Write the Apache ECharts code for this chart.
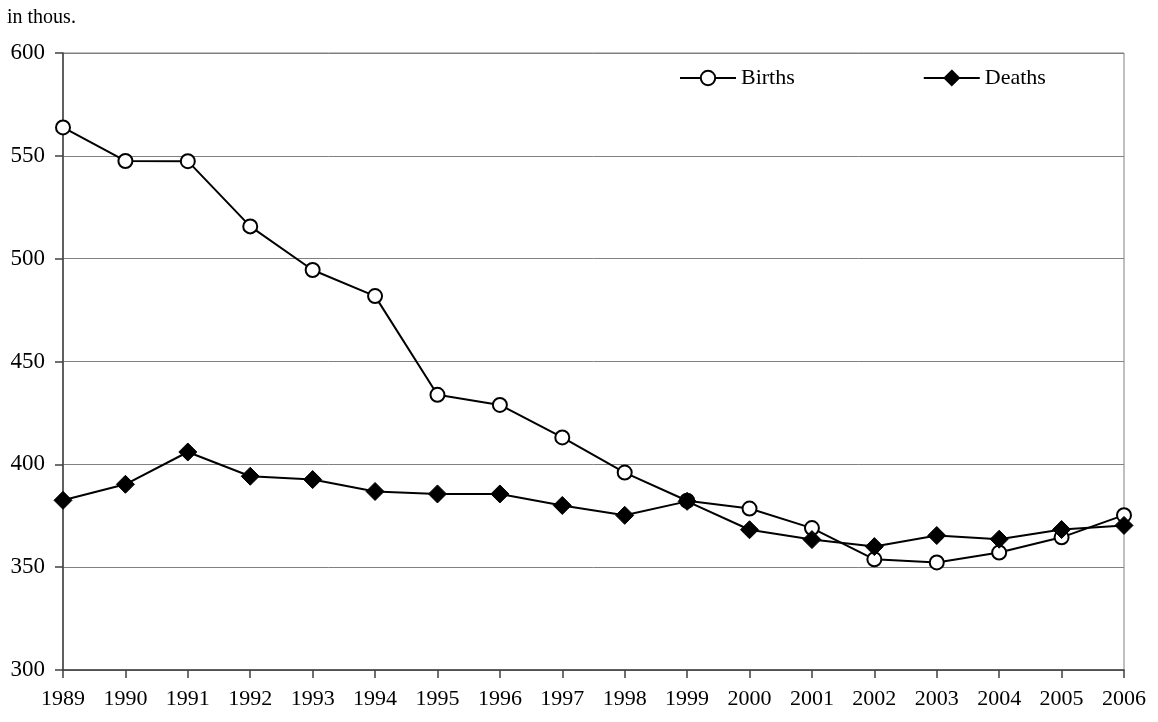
<!DOCTYPE html>
<html>
<head>
<meta charset="utf-8">
<script src="https://cdn.jsdelivr.net/npm/echarts@6/dist/echarts.min.js"></script>
<style>
html,body{margin:0;padding:0;background:#fff;}
#chart{width:1158px;height:722px;}
</style>
</head>
<body>
<div id="chart"></div>
<script>
const years = ['1989','1990','1991','1992','1993','1994','1995','1996','1997','1998','1999','2000','2001','2002','2003','2004','2005','2006'];
const births = [563.8, 547.5, 547.4, 515.7, 494.5, 481.8, 433.8, 428.9, 413.1, 396.0, 382.3, 378.5, 369.0, 353.8, 352.3, 357.1, 364.5, 375.3];
const deaths = [382.5, 390.3, 406.0, 394.2, 392.6, 386.8, 385.6, 385.6, 380.0, 375.2, 382.0, 368.2, 363.4, 360.0, 365.4, 363.6, 368.3, 370.3];
const yTicks = {min: 300, max: 600, interval: 50};
const unitLabel = 'in thous.';

const FONT = '"Liberation Serif", "Times New Roman", serif';
const chart = echarts.init(document.getElementById('chart'), null, {renderer: 'canvas'});
chart.setOption({
  animation: false,
  backgroundColor: '#ffffff',
  title: {
    text: unitLabel, left: 2, top: 3,
    textStyle: {fontFamily: FONT, fontSize: 20, fontWeight: 'normal', color: '#000'}
  },
  legend: {
    left: 674, top: 62,
    itemWidth: 56, itemHeight: 18, itemGap: 128,
    textStyle: {fontFamily: FONT, fontSize: 22, color: '#000', padding: [0, 0, 0, 0]},
    data: ['Births', 'Deaths']
  },
  grid: {
    left: 63, right: 34, top: 53, bottom: 52,
    show: true, borderColor: '#808080', borderWidth: 1, backgroundColor: 'transparent'
  },
  xAxis: {
    type: 'category', data: years, boundaryGap: false,
    axisLine: {show: true, lineStyle: {color: '#404040', width: 1.5}},
    axisTick: {show: true, alignWithLabel: true, length: 8, lineStyle: {color: '#404040', width: 1.5}},
    axisLabel: {fontFamily: FONT, fontSize: 22, color: '#000', margin: 18, interval: 0},
    splitLine: {show: false}
  },
  yAxis: {
    type: 'value', min: yTicks.min, max: yTicks.max, interval: yTicks.interval,
    axisLine: {show: true, lineStyle: {color: '#404040', width: 1.5}},
    axisTick: {show: true, length: 8, lineStyle: {color: '#404040', width: 1.5}},
    axisLabel: {fontFamily: FONT, fontSize: 23, color: '#000', margin: 18},
    splitLine: {show: true, lineStyle: {color: '#808080', width: 1}}
  },
  series: [
    {
      name: 'Births', type: 'line', data: births,
      symbol: 'circle', symbolSize: 14,
      lineStyle: {color: '#000', width: 2},
      itemStyle: {color: '#fff', borderColor: '#000', borderWidth: 2},
      z: 3
    },
    {
      name: 'Deaths', type: 'line', data: deaths,
      symbol: 'diamond', symbolSize: 18,
      lineStyle: {color: '#000', width: 2},
      itemStyle: {color: '#000', borderColor: '#000', borderWidth: 1},
      z: 4
    }
  ]
});
</script>
</body>
</html>
